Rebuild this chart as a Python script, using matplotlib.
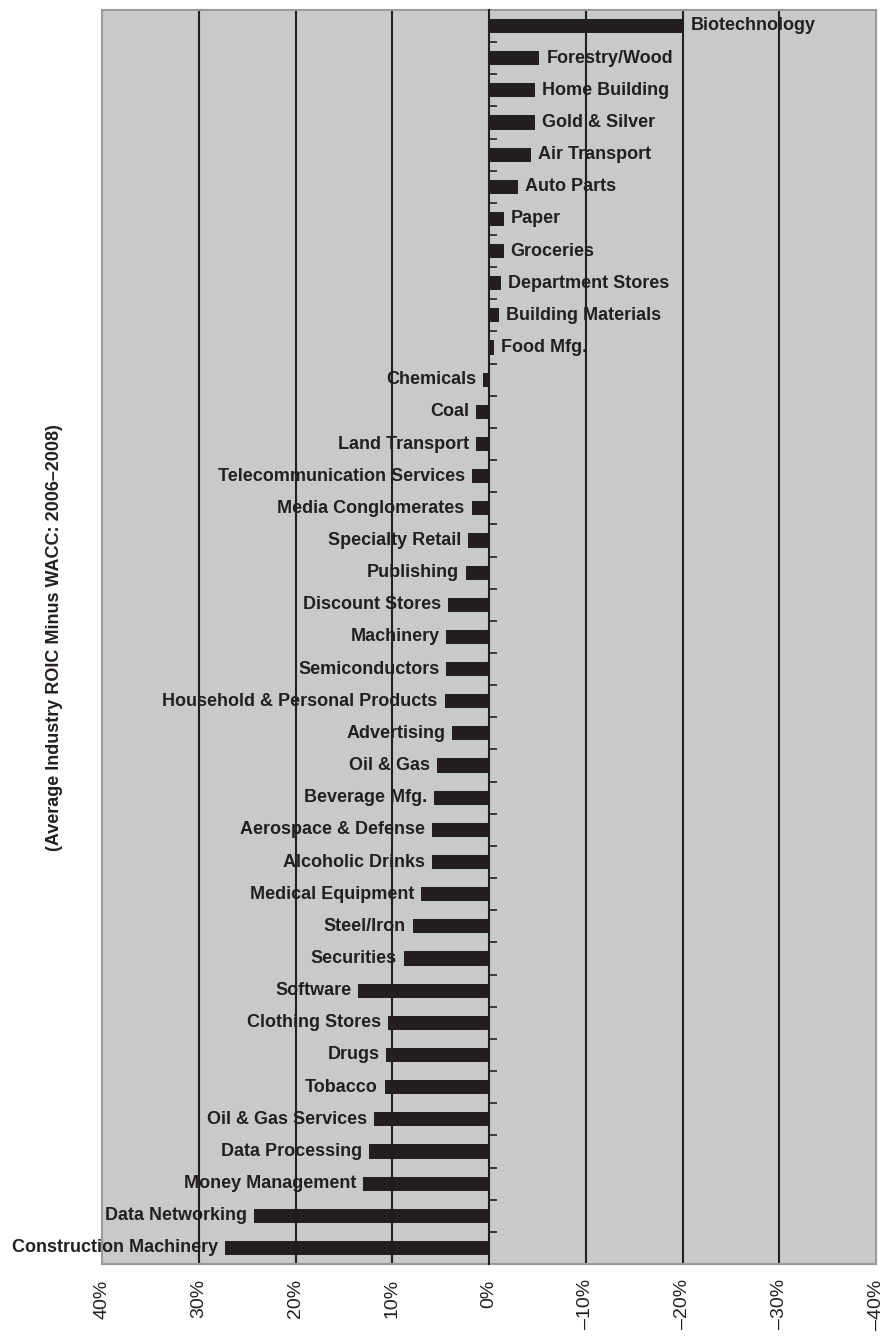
import matplotlib.pyplot as plt
import numpy as np

plt.rcParams['font.family'] = ['Liberation Sans', 'DejaVu Sans']

industries = ["Biotechnology", "Forestry/Wood", "Home Building", "Gold & Silver",
              "Air Transport", "Auto Parts", "Paper", "Groceries", "Department Stores",
              "Building Materials", "Food Mfg.", "Chemicals", "Coal", "Land Transport",
              "Telecommunication Services", "Media Conglomerates", "Specialty Retail",
              "Publishing", "Discount Stores", "Machinery", "Semiconductors",
              "Household & Personal Products", "Advertising", "Oil & Gas", "Beverage Mfg.",
              "Aerospace & Defense", "Alcoholic Drinks", "Medical Equipment", "Steel/Iron",
              "Securities", "Software", "Clothing Stores", "Drugs", "Tobacco",
              "Oil & Gas Services", "Data Processing", "Money Management",
              "Data Networking", "Construction Machinery"]

# ROIC minus WACC, percent
spread = [-20.1, -5.2, -4.8, -4.8, -4.3, -3.0, -1.5, -1.5, -1.2, -1.0, -0.5,
          0.6, 1.3, 1.3, 1.8, 1.8, 2.2, 2.4, 4.2, 4.4, 4.4, 4.6, 3.8, 5.4, 5.7,
          5.9, 5.9, 7.0, 7.9, 8.8, 13.5, 10.4, 10.6, 10.8, 11.9, 12.4, 13.0,
          24.3, 27.3]

xticks = [40, 30, 20, 10, 0, -10, -20, -30, -40]
gridlines = [30, 20, 10, -10, -20, -30]

dark = '#231f20'
fig = plt.figure(figsize=(8.84, 13.37), dpi=100)
ax = fig.add_axes([0.1154, 0.0546, 0.8756, 0.938])
ax.set_facecolor('#c8c9cb')

y = np.arange(len(industries))
ax.barh(y, spread, height=0.44, color=dark, zorder=3)

for g in gridlines:
    ax.axvline(g, color=dark, lw=1.5, zorder=2.5)

for yi, name, v in zip(y, industries, spread):
    if v < 0:
        ax.annotate(name, (v, yi), xytext=(5, 0), textcoords='offset points',
                    ha='left', va='center', fontsize=13, fontweight='bold',
                    color=dark, zorder=2)
    else:
        ax.annotate(name, (v, yi), xytext=(-5, 0), textcoords='offset points',
                    ha='right', va='center', fontsize=13, fontweight='bold',
                    color=dark, zorder=2)

ax.set_xlim(40, -40)
ax.set_ylim(len(industries) - 0.5, -0.5)

ax.set_xticks(xticks)
ax.set_xticklabels([f"{t}%".replace('-', '\u2013') for t in xticks],
                   rotation=90, fontsize=14, color=dark)
ax.tick_params(axis='x', length=0, pad=11)

ax.spines['left'].set_position(('data', 0))
ax.spines['left'].set_color(dark)
ax.spines['left'].set_linewidth(1.5)
ax.spines['left'].set_zorder(4)
ax.set_yticks(np.arange(-0.5, len(industries), 1.0))
ax.set_yticklabels([])
ax.tick_params(axis='y', direction='in', length=6, width=1.2, color=dark)

for s in ['top', 'right', 'bottom']:
    ax.spines[s].set_color('#9a9b9d')
    ax.spines[s].set_linewidth(1.5)
ax.patch.set_edgecolor('#9a9b9d')
ax.patch.set_linewidth(1.5)

fig.text(0.062, 0.5235, "(Average Industry ROIC Minus WACC: 2006\u20132008)",
         rotation=90, ha='center', va='center', fontsize=13, fontweight='bold',
         color=dark)

fig.savefig("out.png", dpi=100)
